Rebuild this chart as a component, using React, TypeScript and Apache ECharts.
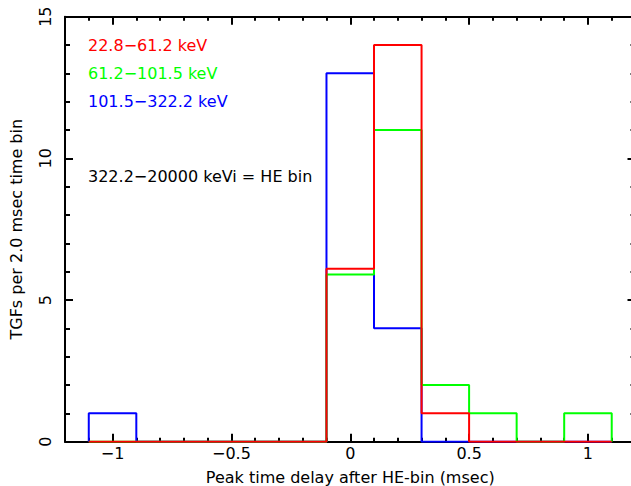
import React, { useEffect, useRef } from "react";
import * as echarts from "echarts";

const binCenters = [-1.0, -0.8, -0.6, -0.4, -0.2, 0.0, 0.2, 0.4, 0.6, 0.8, 1.0];
const binWidth = 0.2;
const redCounts = [0, 0, 0, 0, 0, 6.1, 14, 1, 0, 0, 0];
const greenCounts = [0, 0, 0, 0, 0, 5.9, 11, 2, 1, 0, 1];
const blueCounts = [1, 0, 0, 0, 0, 13, 4, 0, 0, 0, 0];
const majorXTicks = [-1, -0.5, 0, 0.5, 1];
const bandLabels = ["22.8−61.2 keV", "61.2−101.5 keV", "101.5−322.2 keV"];
const heLabel = "322.2−20000 keVi = HE bin";

const FONT = "'DejaVu Sans', Verdana, sans-serif";
const FS = 16;

function histPoints(counts: number[]): number[][] {
  const pts: number[][] = [];
  const half = binWidth / 2;
  pts.push([+(binCenters[0] - half).toFixed(3), 0]);
  binCenters.forEach((c, i) => {
    const l = +(c - half).toFixed(3);
    const r = +(c + half).toFixed(3);
    pts.push([l, counts[i]]);
    pts.push([r, counts[i]]);
  });
  pts.push([+(binCenters[binCenters.length - 1] + half).toFixed(3), 0]);
  return pts;
}

const fmtMinus = (v: number) => String(v).replace("-", "−");

export default function App() {
  const ref = useRef<HTMLDivElement>(null);
  useEffect(() => {
    if (!ref.current) return;
    const chart = echarts.init(ref.current, undefined, { renderer: "svg" });
    const black = "#000";
    const baseX = {
      type: "value",
      min: -1.2,
      max: 1.2,
      splitLine: { show: false },
    };
    const lineSeries = (name: string, color: string, counts: number[]) => ({
      name,
      type: "line",
      data: histPoints(counts),
      symbol: "none",
      lineStyle: { color, width: 2 },
      xAxisIndex: 0,
      yAxisIndex: 0,
    });
    chart.setOption({
      animation: false,
      backgroundColor: "#fff",
      textStyle: { fontFamily: FONT },
      grid: {
        left: 65,
        top: 16.7,
        width: 570.5,
        height: 425,
        containLabel: false,
        outerBoundsMode: "none",
      },
      xAxis: [
        {
          ...baseX,
          position: "bottom",
          axisLine: { show: true, onZero: false, lineStyle: { color: black, width: 2 } },
          axisTick: { show: true, inside: true, length: 8, customValues: majorXTicks, lineStyle: { color: black, width: 2 } },
          axisLabel: {
            show: true,
            customValues: majorXTicks,
            formatter: fmtMinus,
            color: black,
            fontSize: FS,
            fontFamily: FONT,
            margin: 4,
          },
          name: "Peak time delay after HE-bin (msec)",
          nameLocation: "middle",
          nameGap: 27.5,
          nameMoveOverlap: false,
          nameTextStyle: { color: black, fontSize: FS, fontFamily: FONT },
        },
        {
          ...baseX,
          position: "bottom",
          interval: 0.1,
          axisLine: { show: false, onZero: false },
          axisTick: { show: true, inside: true, length: 4, lineStyle: { color: black, width: 2 } },
          axisLabel: { show: false },
        },
        {
          ...baseX,
          position: "top",
          axisLine: { show: true, onZero: false, lineStyle: { color: black, width: 2 } },
          axisTick: { show: true, inside: true, length: 8, customValues: majorXTicks, lineStyle: { color: black, width: 2 } },
          axisLabel: { show: false },
        },
        {
          ...baseX,
          position: "top",
          interval: 0.1,
          axisLine: { show: false, onZero: false },
          axisTick: { show: true, inside: true, length: 4, lineStyle: { color: black, width: 2 } },
          axisLabel: { show: false },
        },
      ],
      yAxis: [
        {
          type: "value",
          position: "left",
          min: 0,
          max: 15,
          interval: 5,
          splitLine: { show: false },
          axisLine: { show: true, onZero: false, lineStyle: { color: black, width: 2 } },
          axisTick: { show: true, inside: true, length: 8, lineStyle: { color: black, width: 2 } },
          minorTick: { show: true, splitNumber: 5, length: 5, lineStyle: { color: black, width: 2 } },
          axisLabel: { rotate: 90, color: black, fontSize: FS, fontFamily: FONT, margin: 12 },
          name: "TGFs per 2.0 msec time bin",
          nameLocation: "middle",
          nameGap: 41,
          nameMoveOverlap: false,
          nameRotate: 90,
          nameTextStyle: { color: black, fontSize: FS, fontFamily: FONT },
        },
        {
          type: "value",
          position: "right",
          min: 0,
          max: 15,
          interval: 5,
          splitLine: { show: false },
          axisLine: { show: true, onZero: false, lineStyle: { color: black, width: 2 } },
          axisTick: { show: true, inside: true, length: 8, lineStyle: { color: black, width: 2 } },
          minorTick: { show: true, splitNumber: 5, length: 5, lineStyle: { color: black, width: 2 } },
          axisLabel: { show: false },
        },
      ],
      series: [
        lineSeries("101.5-322.2 keV", "#0000ff", blueCounts),
        lineSeries("61.2-101.5 keV", "#00ff00", greenCounts),
        lineSeries("22.8-61.2 keV", "#ff0000", redCounts),
      ],
      graphic: [
        { type: "text", left: 88, top: 37, style: { text: bandLabels[0], fill: "#ff0000", font: `${FS}px ${FONT}` } },
        { type: "text", left: 88, top: 65, style: { text: bandLabels[1], fill: "#00ff00", font: `${FS}px ${FONT}` } },
        { type: "text", left: 88, top: 93, style: { text: bandLabels[2], fill: "#0000ff", font: `${FS}px ${FONT}` } },
        { type: "text", left: 88, top: 168, style: { text: heLabel, fill: "#000", font: `${FS}px ${FONT}` } },
      ],
    });
    return () => chart.dispose();
  }, []);
  return (
    <div
      ref={ref}
      style={{ position: "fixed", left: 0, top: 0, width: 631, height: 486, background: "#fff" }}
    />
  );
}
